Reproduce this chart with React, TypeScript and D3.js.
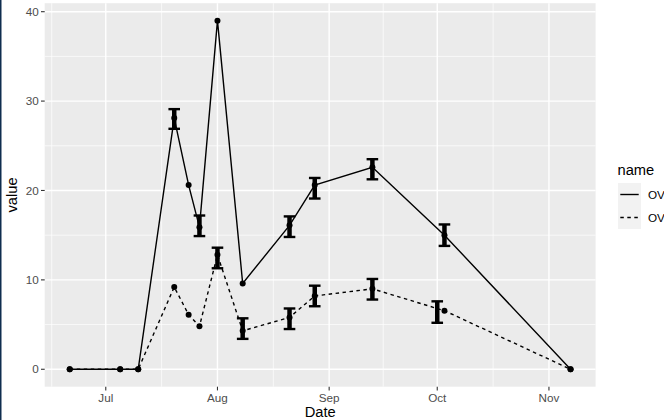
import React from 'react';
import * as d3 from 'd3';

// sampling dates (UTC, year arbitrary)
const dates = ['2021-06-21', '2021-07-05', '2021-07-10', '2021-07-20', '2021-07-24', '2021-07-27',
  '2021-08-01', '2021-08-08', '2021-08-21', '2021-08-28', '2021-09-13', '2021-10-03', '2021-11-07'];
const ov1 = [0, 0, 0, 28.1, 20.6, 15.9, 39.0, 9.6, 16.1, 20.6, 22.6, 15.0, 0];
const ov2 = [0, 0, 0, 9.2, 6.1, 4.8, 12.8, 4.3, 5.8, 8.2, 9.0, 6.55, 0];

// error bars: date, low, high
const ov1ErrDates = ['2021-07-20', '2021-07-27', '2021-08-21', '2021-08-28', '2021-09-13', '2021-10-03'];
const ov1ErrLow = [26.9, 14.9, 14.8, 19.1, 21.25, 13.8];
const ov1ErrHigh = [29.1, 17.2, 17.1, 21.4, 23.5, 16.2];
const ov2ErrDates = ['2021-08-01', '2021-08-08', '2021-08-21', '2021-08-28', '2021-09-13', '2021-10-01'];
const ov2ErrLow = [11.3, 3.4, 4.5, 7.05, 7.8, 5.2];
const ov2ErrHigh = [13.6, 5.7, 6.8, 9.35, 10.1, 7.6];

const seriesNames = ['OV1', 'OV2'];
const yTicks = [0, 10, 20, 30, 40];
const yMinor = [5, 15, 25, 35];

const W = 664;
const H = 420;
const panel = { left: 44.7, right: 595.6, top: 3.2, bottom: 386.7 };
const font = 'Liberation Sans, Arial, sans-serif';

const parse = d3.utcParse('%Y-%m-%d');

export default function App() {
  const pts = dates.map(d => parse(d) as Date);
  const [d0, d1] = d3.extent(pts) as [Date, Date];
  const span = +d1 - +d0;
  const x = d3.scaleUtc()
    .domain([new Date(+d0 - span * 0.05), new Date(+d1 + span * 0.05)])
    .range([panel.left, panel.right]);

  const yMax = d3.max(ov1) || 0;
  const y = d3.scaleLinear()
    .domain([0 - yMax * 0.05, yMax * 1.05])
    .range([panel.bottom, panel.top]);

  const inDomain = (d: Date) => +d >= +x.domain()[0] && +d <= +x.domain()[1];
  const allMajors = d3.utcMonth.range(d3.utcMonth.offset(d3.utcMonth.floor(d0), -1), d3.utcMonth.offset(d1, 2));
  const xMajor = allMajors.filter(inDomain);
  // ggplot minor breaks sit halfway between the major ones
  const xMinor = d3.pairs(allMajors)
    .map(([a, b]) => new Date((+a + +b) / 2))
    .filter(inDomain);

  const line = d3.line<[Date, number]>()
    .x(d => x(d[0]))
    .y(d => y(d[1]));

  const s1 = pts.map((d, i) => [d, ov1[i]] as [Date, number]);
  const s2 = pts.map((d, i) => [d, ov2[i]] as [Date, number]);

  const errs = [
    ...ov1ErrDates.map((d, i) => ({ date: parse(d) as Date, lo: ov1ErrLow[i], hi: ov1ErrHigh[i] })),
    ...ov2ErrDates.map((d, i) => ({ date: parse(d) as Date, lo: ov2ErrLow[i], hi: ov2ErrHigh[i] })),
  ];

  const fmt = d3.utcFormat('%b');

  return (
    <svg width={W} height={H} style={{ position: 'absolute', left: 0, top: 0, background: '#fff' }}>
      <rect x={0} y={0} width={W} height={H} fill="#fff" />
      <rect x={0} y={0} width={1.5} height={H} fill="#0f2d4f" />
      {/* panel */}
      <rect x={panel.left} y={panel.top} width={panel.right - panel.left} height={panel.bottom - panel.top} fill="#EBEBEB" />
      {yMinor.map(v => (
        <line key={'ym' + v} x1={panel.left} x2={panel.right} y1={y(v)} y2={y(v)} stroke="#fff" strokeWidth={0.7} />
      ))}
      {xMinor.map(d => (
        <line key={'xm' + +d} x1={x(d)} x2={x(d)} y1={panel.top} y2={panel.bottom} stroke="#fff" strokeWidth={0.7} />
      ))}
      {yTicks.map(v => (
        <line key={'yg' + v} x1={panel.left} x2={panel.right} y1={y(v)} y2={y(v)} stroke="#fff" strokeWidth={1.4} />
      ))}
      {xMajor.map(d => (
        <line key={'xg' + +d} x1={x(d)} x2={x(d)} y1={panel.top} y2={panel.bottom} stroke="#fff" strokeWidth={1.4} />
      ))}

      {/* lines */}
      <path d={line(s1) || ''} fill="none" stroke="#000" strokeWidth={1.4} />
      <path d={line(s2) || ''} fill="none" stroke="#000" strokeWidth={1.4} strokeDasharray="3.5,3.5" />

      {/* error bars */}
      {errs.map((e, i) => {
        const cx = x(e.date);
        return (
          <g key={'e' + i} stroke="#000">
            <line x1={cx} x2={cx} y1={y(e.lo)} y2={y(e.hi)} strokeWidth={4.5} />
            <line x1={cx - 5.8} x2={cx + 5.8} y1={y(e.hi)} y2={y(e.hi)} strokeWidth={2.4} />
            <line x1={cx - 5.8} x2={cx + 5.8} y1={y(e.lo)} y2={y(e.lo)} strokeWidth={2.4} />
          </g>
        );
      })}

      {/* points */}
      {s1.map((d, i) => <circle key={'p1' + i} cx={x(d[0])} cy={y(d[1])} r={3} fill="#000" />)}
      {s2.map((d, i) => <circle key={'p2' + i} cx={x(d[0])} cy={y(d[1])} r={3} fill="#000" />)}

      {/* y axis */}
      {yTicks.map(v => (
        <g key={'yt' + v}>
          <line x1={panel.left - 3.7} x2={panel.left} y1={y(v)} y2={y(v)} stroke="#333" strokeWidth={1.1} />
          <text x={panel.left - 6} y={y(v)} dy="0.35em" textAnchor="end" fontFamily={font} fontSize={11.7} fill="#4D4D4D">{v}</text>
        </g>
      ))}
      {/* x axis */}
      {xMajor.map(d => (
        <g key={'xt' + +d}>
          <line x1={x(d)} x2={x(d)} y1={panel.bottom} y2={panel.bottom + 3.7} stroke="#333" strokeWidth={1.1} />
          <text x={x(d)} y={panel.bottom + 6} dy="0.8em" textAnchor="middle" fontFamily={font} fontSize={11.7} fill="#4D4D4D">{fmt(d)}</text>
        </g>
      ))}
      <text x={(panel.left + panel.right) / 2} y={417} textAnchor="middle" fontFamily={font} fontSize={14.7} fill="#000">Date</text>
      <text transform={`translate(17,${(panel.top + panel.bottom) / 2}) rotate(-90)`} textAnchor="middle" fontFamily={font} fontSize={14.7} fill="#000">value</text>

      {/* legend */}
      <text x={617.5} y={175} fontFamily={font} fontSize={14.7} fill="#000">name</text>
      {seriesNames.map((n, i) => {
        const top = 183 + i * 23;
        return (
          <g key={n}>
            <rect x={618} y={top} width={23} height={23} fill="#F2F2F2" />
            <line x1={620.3} x2={638.7} y1={top + 11.5} y2={top + 11.5} stroke="#000" strokeWidth={1.4}
              strokeDasharray={i === 1 ? '3.5,3.5' : undefined} />
            <text x={648} y={top + 11.5} dy="0.35em" fontFamily={font} fontSize={11.7} fill="#000">{n}</text>
          </g>
        );
      })}
    </svg>
  );
}
